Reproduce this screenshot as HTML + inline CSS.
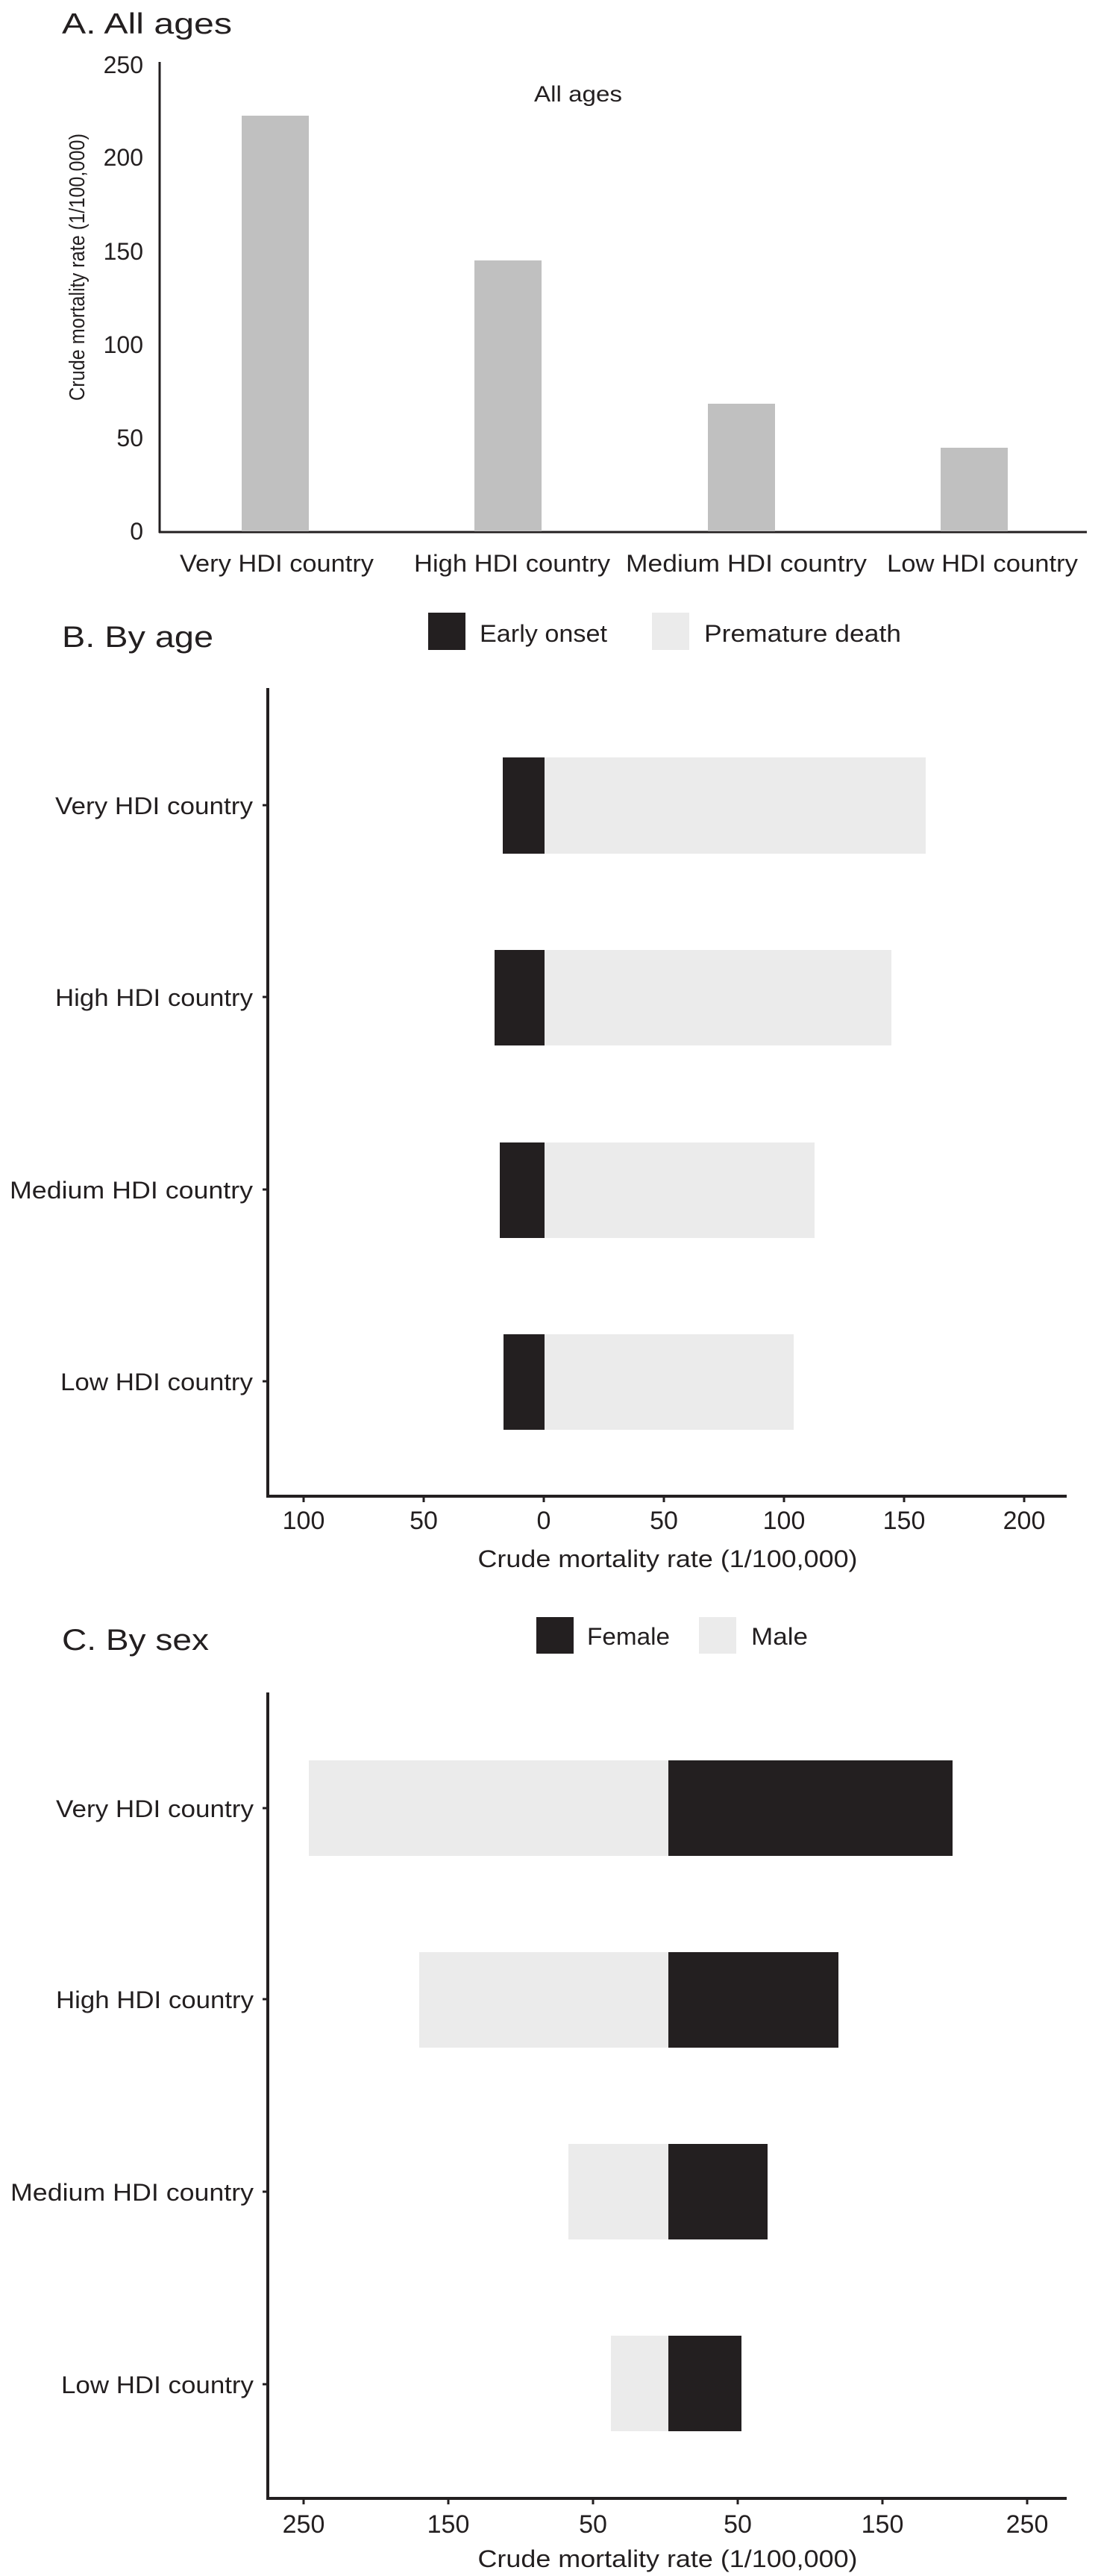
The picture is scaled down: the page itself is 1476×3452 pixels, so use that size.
<!DOCTYPE html>
<html><head><meta charset="utf-8"><style>
html,body{margin:0;padding:0;background:#fff}
svg{display:block}
text{font-family:"Liberation Sans",sans-serif;fill:#231f20}
</style></head><body>
<svg width="1476" height="3452" viewBox="0 0 1476 3452" xmlns="http://www.w3.org/2000/svg">
<!-- Panel A -->
<text x="83" y="45" font-size="39" textLength="228" lengthAdjust="spacingAndGlyphs">A. All ages</text>
<line x1="214" y1="83" x2="214" y2="714" stroke="#231f20" stroke-width="3"/>
<line x1="213" y1="713" x2="1457" y2="713" stroke="#231f20" stroke-width="3"/>
<g font-size="32" text-anchor="end">
<text x="192" y="98">250</text>
<text x="192" y="222">200</text>
<text x="192" y="348">150</text>
<text x="192" y="473">100</text>
<text x="192" y="598">50</text>
<text x="192" y="723">0</text>
</g>
<text transform="translate(113,358) rotate(-90)" font-size="29" text-anchor="middle" textLength="358" lengthAdjust="spacingAndGlyphs">Crude mortality rate (1/100,000)</text>
<text x="775" y="136" font-size="30" text-anchor="middle" textLength="118" lengthAdjust="spacingAndGlyphs">All ages</text>
<g fill="#c0c0c0">
<rect x="324" y="155" width="90" height="557"/>
<rect x="636" y="349" width="90" height="363"/>
<rect x="949" y="541" width="90" height="171"/>
<rect x="1261" y="600" width="90" height="112"/>
</g>
<g font-size="32">
<text x="241" y="766" textLength="260" lengthAdjust="spacingAndGlyphs">Very HDI country</text>
<text x="555" y="766" textLength="263" lengthAdjust="spacingAndGlyphs">High HDI country</text>
<text x="839" y="766" textLength="323" lengthAdjust="spacingAndGlyphs">Medium HDI country</text>
<text x="1189" y="766" textLength="256" lengthAdjust="spacingAndGlyphs">Low HDI country</text>
</g>

<!-- Panel B -->
<text x="83" y="867" font-size="40" textLength="203" lengthAdjust="spacingAndGlyphs">B. By age</text>
<rect x="574" y="821" width="50" height="50" fill="#231f20"/>
<text x="643" y="860" font-size="32" textLength="171" lengthAdjust="spacingAndGlyphs">Early onset</text>
<rect x="874" y="821" width="50" height="50" fill="#ebebeb"/>
<text x="944" y="860" font-size="32" textLength="264" lengthAdjust="spacingAndGlyphs">Premature death</text>
<line x1="359" y1="922" x2="359" y2="2006" stroke="#231f20" stroke-width="4"/>
<line x1="357" y1="2005" x2="1430" y2="2005" stroke="#231f20" stroke-width="4"/>
<g fill="#ebebeb">
<rect x="730" y="1015" width="511" height="129"/>
<rect x="730" y="1273" width="465" height="128"/>
<rect x="730" y="1531" width="362" height="128"/>
<rect x="730" y="1788" width="334" height="128"/>
</g>
<g fill="#231f20">
<rect x="674" y="1015" width="56" height="129"/>
<rect x="663" y="1273" width="67" height="128"/>
<rect x="670" y="1531" width="60" height="128"/>
<rect x="675" y="1788" width="55" height="128"/>
</g>
<g stroke="#231f20" stroke-width="3">
<line x1="352" y1="1079" x2="359" y2="1079"/><line x1="352" y1="1336" x2="359" y2="1336"/>
<line x1="352" y1="1594" x2="359" y2="1594"/><line x1="352" y1="1851" x2="359" y2="1851"/>
<line x1="407" y1="2005" x2="407" y2="2013"/><line x1="568" y1="2005" x2="568" y2="2013"/>
<line x1="729" y1="2005" x2="729" y2="2013"/><line x1="890" y1="2005" x2="890" y2="2013"/>
<line x1="1051" y1="2005" x2="1051" y2="2013"/><line x1="1212" y1="2005" x2="1212" y2="2013"/>
<line x1="1373" y1="2005" x2="1373" y2="2013"/>
</g>
<g font-size="32" text-anchor="end">
<text x="339" y="1091" textLength="265" lengthAdjust="spacingAndGlyphs">Very HDI country</text>
<text x="339" y="1348" textLength="265" lengthAdjust="spacingAndGlyphs">High HDI country</text>
<text x="339" y="1606" textLength="326" lengthAdjust="spacingAndGlyphs">Medium HDI country</text>
<text x="339" y="1863" textLength="258" lengthAdjust="spacingAndGlyphs">Low HDI country</text>
</g>
<g font-size="34" text-anchor="middle">
<text x="407" y="2049">100</text><text x="568" y="2049">50</text><text x="729" y="2049">0</text>
<text x="890" y="2049">50</text><text x="1051" y="2049">100</text><text x="1212" y="2049">150</text>
<text x="1373" y="2049">200</text>
</g>
<text x="895" y="2100" font-size="32" text-anchor="middle" textLength="509" lengthAdjust="spacingAndGlyphs">Crude mortality rate (1/100,000)</text>

<!-- Panel C -->
<text x="83" y="2211" font-size="40" textLength="197" lengthAdjust="spacingAndGlyphs">C. By sex</text>
<rect x="719" y="2167" width="50" height="49" fill="#231f20"/>
<text x="787" y="2204" font-size="32" textLength="111" lengthAdjust="spacingAndGlyphs">Female</text>
<rect x="937" y="2167" width="50" height="49" fill="#ebebeb"/>
<text x="1007" y="2204" font-size="32" textLength="76" lengthAdjust="spacingAndGlyphs">Male</text>
<line x1="359" y1="2268" x2="359" y2="3350" stroke="#231f20" stroke-width="4"/>
<line x1="357" y1="3348" x2="1430" y2="3348" stroke="#231f20" stroke-width="4"/>
<g fill="#ebebeb">
<rect x="414" y="2359" width="482" height="128"/>
<rect x="562" y="2616" width="334" height="128"/>
<rect x="762" y="2873" width="134" height="128"/>
<rect x="819" y="3130" width="77" height="128"/>
</g>
<g fill="#231f20">
<rect x="896" y="2359" width="381" height="128"/>
<rect x="896" y="2616" width="228" height="128"/>
<rect x="896" y="2873" width="133" height="128"/>
<rect x="896" y="3130" width="98" height="128"/>
</g>
<g stroke="#231f20" stroke-width="3">
<line x1="352" y1="2423" x2="359" y2="2423"/><line x1="352" y1="2679" x2="359" y2="2679"/>
<line x1="352" y1="2937" x2="359" y2="2937"/><line x1="352" y1="3195" x2="359" y2="3195"/>
<line x1="407" y1="3348" x2="407" y2="3356"/><line x1="601" y1="3348" x2="601" y2="3356"/>
<line x1="795" y1="3348" x2="795" y2="3356"/><line x1="989" y1="3348" x2="989" y2="3356"/>
<line x1="1183" y1="3348" x2="1183" y2="3356"/><line x1="1377" y1="3348" x2="1377" y2="3356"/>
</g>
<g font-size="32" text-anchor="end">
<text x="340" y="2435" textLength="265" lengthAdjust="spacingAndGlyphs">Very HDI country</text>
<text x="340" y="2691" textLength="265" lengthAdjust="spacingAndGlyphs">High HDI country</text>
<text x="340" y="2949" textLength="326" lengthAdjust="spacingAndGlyphs">Medium HDI country</text>
<text x="340" y="3207" textLength="258" lengthAdjust="spacingAndGlyphs">Low HDI country</text>
</g>
<g font-size="34" text-anchor="middle">
<text x="407" y="3394">250</text><text x="601" y="3394">150</text><text x="795" y="3394">50</text>
<text x="989" y="3394">50</text><text x="1183" y="3394">150</text><text x="1377" y="3394">250</text>
</g>
<text x="895" y="3440" font-size="32" text-anchor="middle" textLength="509" lengthAdjust="spacingAndGlyphs">Crude mortality rate (1/100,000)</text>
</svg>
</body></html>
